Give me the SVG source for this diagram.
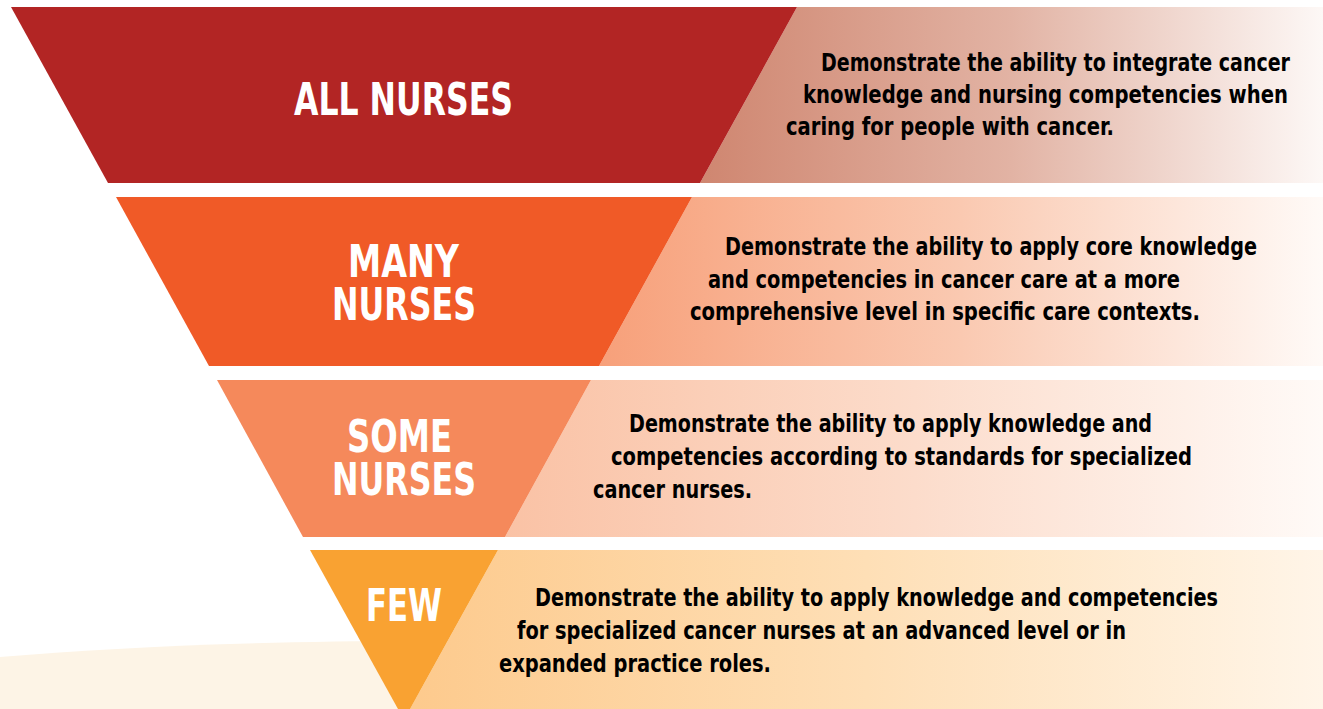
<svg xmlns="http://www.w3.org/2000/svg" width="1323" height="709" viewBox="0 0 1323 709">
<defs>
<linearGradient id="g1" gradientUnits="userSpaceOnUse" x1="700" y1="0" x2="1323" y2="0">
<stop offset="0" stop-color="#CF8670"/><stop offset="0.5" stop-color="#E2B3A4"/><stop offset="1" stop-color="#FDF8F6"/>
</linearGradient>
<linearGradient id="g2" gradientUnits="userSpaceOnUse" x1="600" y1="0" x2="1323" y2="0">
<stop offset="0" stop-color="#F7A07A"/><stop offset="0.5" stop-color="#FAC9B1"/><stop offset="1" stop-color="#FFFAF7"/>
</linearGradient>
<linearGradient id="g3" gradientUnits="userSpaceOnUse" x1="505" y1="0" x2="1323" y2="0">
<stop offset="0" stop-color="#FAC2A5"/><stop offset="0.5" stop-color="#FCDCCB"/><stop offset="1" stop-color="#FFFAF7"/>
</linearGradient>
<linearGradient id="g4" gradientUnits="userSpaceOnUse" x1="410" y1="0" x2="1323" y2="0">
<stop offset="0" stop-color="#FDCA8D"/><stop offset="0.5" stop-color="#FEDFB6"/><stop offset="1" stop-color="#FFF5E8"/>
</linearGradient>
</defs>
<style>
.lbl{font-family:"Liberation Sans Narrow","DejaVu Sans Condensed","Liberation Sans",sans-serif;font-weight:bold;font-size:44px;fill:#FFFFFF;}
.desc{font-family:"Liberation Sans Narrow","DejaVu Sans Condensed","Liberation Sans",sans-serif;font-weight:bold;font-size:25px;fill:#000000;}
</style>
<rect x="0" y="0" width="1323" height="709" fill="#FFFFFF"/>
<path d="M0,657 C120,647 260,641 420,641 L420,709 L0,709 Z" fill="#FDF4E6"/>

<g id="all-nurses">
<polygon points="700,183 797,7 1323,7 1323,183" fill="url(#g1)"/>
<polygon points="11,7 797,7 700,183 108,183" fill="#B22524"/>
<text class="lbl" x="294" y="115" textLength="219" lengthAdjust="spacingAndGlyphs">ALL NURSES</text>
<text class="desc" x="821" y="71" textLength="469" lengthAdjust="spacingAndGlyphs">Demonstrate the ability to integrate cancer</text>
<text class="desc" x="803" y="103" textLength="485" lengthAdjust="spacingAndGlyphs">knowledge and nursing competencies when</text>
<text class="desc" x="786" y="135" textLength="328" lengthAdjust="spacingAndGlyphs">caring for people with cancer.</text>
</g>

<g id="many-nurses">
<polygon points="599,366 692,197 1323,197 1323,366" fill="url(#g2)"/>
<polygon points="116,197 692,197 599,366 209,366" fill="#F05A27"/>
<text class="lbl" x="348" y="277" textLength="111" lengthAdjust="spacingAndGlyphs">MANY</text>
<text class="lbl" x="332" y="320" textLength="144" lengthAdjust="spacingAndGlyphs">NURSES</text>
<text class="desc" x="725" y="255" textLength="532" lengthAdjust="spacingAndGlyphs">Demonstrate the ability to apply core knowledge</text>
<text class="desc" x="708" y="288" textLength="472" lengthAdjust="spacingAndGlyphs">and competencies in cancer care at a more</text>
<text class="desc" x="690" y="320" textLength="510" lengthAdjust="spacingAndGlyphs">comprehensive level in specific care contexts.</text>
</g>

<g id="some-nurses">
<polygon points="505,537 591,380 1323,380 1323,537" fill="url(#g3)"/>
<polygon points="217,380 591,380 505,537 303,537" fill="#F5895B"/>
<text class="lbl" x="347" y="452" textLength="105" lengthAdjust="spacingAndGlyphs">SOME</text>
<text class="lbl" x="332" y="495" textLength="144" lengthAdjust="spacingAndGlyphs">NURSES</text>
<text class="desc" x="629" y="432" textLength="523" lengthAdjust="spacingAndGlyphs">Demonstrate the ability to apply knowledge and</text>
<text class="desc" x="611" y="465" textLength="581" lengthAdjust="spacingAndGlyphs">competencies according to standards for specialized</text>
<text class="desc" x="593" y="498" textLength="159" lengthAdjust="spacingAndGlyphs">cancer nurses.</text>
</g>

<g id="few">
<polygon points="410,709 498,550 1323,550 1323,709" fill="url(#g4)"/>
<polygon points="310,550 498,550 410,709 398,709" fill="#F9A232"/>
<text class="lbl" x="366" y="621" textLength="76" lengthAdjust="spacingAndGlyphs">FEW</text>
<text class="desc" x="535" y="606" textLength="683" lengthAdjust="spacingAndGlyphs">Demonstrate the ability to apply knowledge and competencies</text>
<text class="desc" x="517" y="639" textLength="609" lengthAdjust="spacingAndGlyphs">for specialized cancer nurses at an advanced level or in</text>
<text class="desc" x="499" y="672" textLength="272" lengthAdjust="spacingAndGlyphs">expanded practice roles.</text>
</g>
</svg>
